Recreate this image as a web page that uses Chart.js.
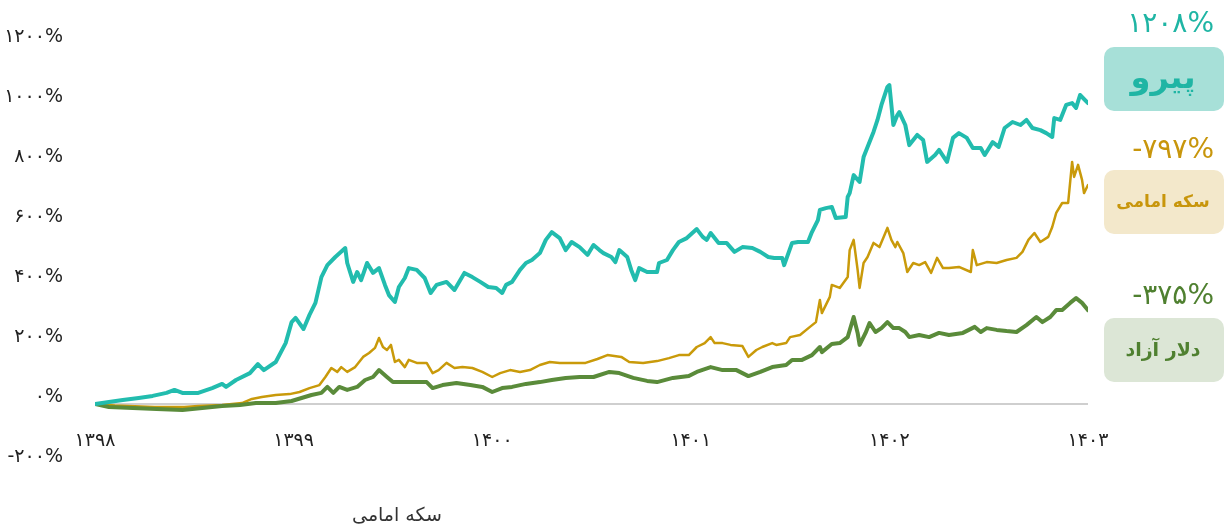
<!DOCTYPE html>
<html>
<head>
<meta charset="utf-8">
<script src="https://cdn.jsdelivr.net/npm/chart.js@4"></script>
<style>
html,body{margin:0;padding:0;background:#fff;}
canvas{display:block;}
</style>
</head>
<body>
<canvas id="c" width="1225" height="529"></canvas>
<script>
// ---- data (x = Solar Hijri year, y = cumulative return %) ----
const pirouDates = [1398.00,1398.07,1398.14,1398.22,1398.29,1398.36,1398.40,1398.44,1398.52,1398.59,1398.64,1398.66,1398.71,1398.78,1398.82,1398.85,1398.91,1398.96,1398.99,1399.01,1399.05,1399.08,1399.11,1399.14,1399.17,1399.21,1399.26,1399.27,1399.30,1399.32,1399.34,1399.37,1399.40,1399.43,1399.46,1399.48,1399.51,1399.53,1399.56,1399.58,1399.62,1399.66,1399.69,1399.72,1399.77,1399.81,1399.86,1399.90,1399.94,1399.98,1400.02,1400.05,1400.07,1400.10,1400.14,1400.17,1400.20,1400.24,1400.27,1400.30,1400.34,1400.37,1400.40,1400.44,1400.48,1400.51,1400.54,1400.56,1400.60,1400.62,1400.64,1400.68,1400.70,1400.72,1400.74,1400.78,1400.83,1400.84,1400.88,1400.91,1400.94,1400.98,1401.03,1401.06,1401.08,1401.10,1401.14,1401.18,1401.22,1401.26,1401.31,1401.35,1401.39,1401.42,1401.46,1401.47,1401.51,1401.54,1401.59,1401.61,1401.64,1401.65,1401.68,1401.71,1401.73,1401.78,1401.79,1401.80,1401.82,1401.85,1401.87,1401.89,1401.92,1401.94,1401.96,1401.99,1402.00,1402.02,1402.04,1402.05,1402.08,1402.10,1402.14,1402.17,1402.19,1402.23,1402.25,1402.29,1402.32,1402.35,1402.39,1402.42,1402.46,1402.48,1402.52,1402.55,1402.58,1402.62,1402.66,1402.69,1402.72,1402.76,1402.79,1402.82,1402.83,1402.86,1402.89,1402.92,1402.94,1402.96,1403.00];
const pirouValues = [0,7,13,20,27,37,47,37,37,53,67,57,80,103,133,113,140,203,273,287,250,297,337,423,463,490,520,470,407,440,413,470,437,453,397,363,340,390,420,453,447,420,370,397,407,380,437,423,407,390,387,370,397,407,447,470,480,503,547,573,553,513,540,523,497,530,513,503,490,473,513,490,447,413,453,440,440,470,480,513,540,553,583,557,547,570,537,537,507,523,520,507,490,487,487,463,537,540,540,573,613,647,653,657,620,623,690,703,763,740,823,857,907,947,997,1057,1063,930,963,973,930,863,897,880,807,830,847,807,887,903,887,853,853,830,873,857,920,940,930,947,920,913,903,890,953,947,997,1003,987,1030,1003];

const coinDates = [1398.00,1398.10,1398.30,1398.45,1398.52,1398.64,1398.74,1398.79,1398.84,1398.91,1398.98,1399.03,1399.08,1399.13,1399.16,1399.19,1399.22,1399.24,1399.27,1399.31,1399.35,1399.38,1399.41,1399.43,1399.45,1399.47,1399.49,1399.51,1399.53,1399.56,1399.58,1399.62,1399.67,1399.70,1399.73,1399.77,1399.81,1399.85,1399.90,1399.95,1400.00,1400.04,1400.09,1400.14,1400.19,1400.24,1400.29,1400.34,1400.40,1400.47,1400.53,1400.58,1400.65,1400.69,1400.76,1400.83,1400.89,1400.94,1400.99,1401.03,1401.07,1401.10,1401.12,1401.16,1401.20,1401.26,1401.29,1401.33,1401.36,1401.41,1401.43,1401.48,1401.50,1401.55,1401.60,1401.63,1401.65,1401.66,1401.70,1401.71,1401.75,1401.79,1401.80,1401.82,1401.84,1401.85,1401.87,1401.89,1401.92,1401.95,1401.99,1402.01,1402.03,1402.04,1402.07,1402.09,1402.12,1402.15,1402.18,1402.21,1402.24,1402.27,1402.30,1402.35,1402.41,1402.42,1402.44,1402.49,1402.54,1402.59,1402.64,1402.67,1402.70,1402.73,1402.76,1402.80,1402.82,1402.84,1402.87,1402.90,1402.92,1402.93,1402.95,1402.97,1402.98,1403.00];
const coinValues = [0,-5,-10,-10,-7,-3,3,17,23,30,33,40,53,63,90,120,107,123,107,123,157,170,187,220,190,180,197,140,147,123,147,137,137,103,113,137,120,123,120,107,90,103,113,107,113,130,140,137,137,137,150,163,157,140,137,143,153,163,163,190,203,223,203,203,197,193,157,180,190,203,197,203,223,230,257,273,347,303,357,397,387,423,513,547,447,387,470,490,537,523,587,547,523,540,503,440,470,463,473,437,487,453,453,457,440,513,463,473,470,480,487,507,547,570,540,557,590,637,670,670,807,757,797,747,703,730];

const dollarDates = [1398.00,1398.07,1398.19,1398.31,1398.44,1398.54,1398.64,1398.73,1398.81,1398.91,1398.99,1399.04,1399.09,1399.14,1399.17,1399.20,1399.23,1399.27,1399.32,1399.36,1399.40,1399.43,1399.47,1399.50,1399.55,1399.62,1399.67,1399.70,1399.75,1399.82,1399.89,1399.95,1400.00,1400.05,1400.10,1400.17,1400.24,1400.30,1400.37,1400.44,1400.51,1400.59,1400.64,1400.71,1400.78,1400.83,1400.91,1400.99,1401.03,1401.10,1401.16,1401.23,1401.29,1401.35,1401.41,1401.48,1401.51,1401.56,1401.61,1401.65,1401.66,1401.71,1401.75,1401.79,1401.82,1401.84,1401.85,1401.88,1401.90,1401.93,1401.96,1401.99,1402.02,1402.05,1402.08,1402.10,1402.15,1402.20,1402.25,1402.30,1402.37,1402.43,1402.46,1402.49,1402.54,1402.59,1402.64,1402.69,1402.74,1402.77,1402.81,1402.84,1402.87,1402.91,1402.94,1402.97,1403.00];
const dollarValues = [0,-10,-13,-17,-20,-13,-7,-3,3,3,10,20,30,37,57,37,57,47,57,80,90,113,90,73,73,73,73,53,63,70,63,57,40,53,57,67,73,80,87,90,90,107,103,87,77,73,87,93,107,123,113,113,93,107,123,130,147,147,163,190,173,200,203,223,290,237,197,237,270,240,253,273,253,253,240,223,230,223,237,230,237,257,240,253,247,243,240,263,290,273,290,313,313,337,353,337,313];

const yTicks = [-200, 0, 200, 400, 600, 800, 1000, 1200];
const xTicks = [1398, 1399, 1400, 1401, 1402, 1403];

const seriesNames = ['پیرو', 'سکه امامی', 'دلار آزاد'];
const finalLabels = ['۱۲۰۸%', '-۷۹۷%', '-۳۷۵%'];

// ---- helpers ----
const faDigits = '۰۱۲۳۴۵۶۷۸۹';
function toFa(v){ return String(v).replace(/[0-9]/g, d => faDigits[+d]); }
function pairs(xs, ys){ return xs.map((x,i)=>({x:x, y:ys[i]})); }

const FONT = "'DejaVu Sans', 'Noto Sans', sans-serif";

const sidePanel = {
  id: 'sidePanel',
  afterDraw(chart){
    const ctx = chart.ctx;
    ctx.save();
    const items = [
      {val: finalLabels[0], name: seriesNames[0], color:'#1fb5a4', bg:'#a7e0d8', vy:25, by:47, bh:64, nameSize:32},
      {val: finalLabels[1], name: seriesNames[1], color:'#c8960c', bg:'#f3e8cb', vy:151, by:170, bh:64, nameSize:17},
      {val: finalLabels[2], name: seriesNames[2], color:'#4f8030', bg:'#dce6d6', vy:297, by:318, bh:64, nameSize:19}
    ];
    items.forEach(it => {
      ctx.fillStyle = it.bg;
      ctx.beginPath();
      ctx.roundRect(1104, it.by, 120, it.bh, 10);
      ctx.fill();
      ctx.fillStyle = it.color;
      ctx.font = "28px " + FONT;
      ctx.textAlign = 'right';
      ctx.textBaseline = 'middle';
      ctx.direction = 'ltr';
      ctx.fillText(it.val, 1214, it.vy);
      ctx.font = "bold " + it.nameSize + "px " + FONT;
      ctx.textAlign = 'center';
      ctx.fillText(it.name, 1163, it.by + it.bh/2 + 1);
    });
    // bottom caption
    ctx.fillStyle = '#333';
    ctx.font = "19px " + FONT;
    ctx.textAlign = 'center';
    ctx.textBaseline = 'middle';
    ctx.fillText(seriesNames[1], 397, 516);
    ctx.restore();
  }
};

new Chart(document.getElementById('c'), {
  type: 'line',
  data: {
    datasets: [
      {label: seriesNames[0], data: pairs(pirouDates, pirouValues), borderColor:'#22bcae', borderWidth:4},
      {label: seriesNames[2], data: pairs(dollarDates, dollarValues), borderColor:'#5a8b3a', borderWidth:4},
      {label: seriesNames[1], data: pairs(coinDates, coinValues), borderColor:'#c99a0a', borderWidth:2.5}
    ]
  },
  options: {
    responsive: false,
    animation: false,
    elements: {
      point: {radius: 0},
      line: {tension: 0, borderJoinStyle: 'round', borderCapStyle: 'round', fill: false}
    },
    layout: {padding: {top: 44, right: 137, left: 0, bottom: 65}},
    plugins: {legend: {display: false}, tooltip: {enabled: false}, title: {display: false}},
    scales: {
      x: {
        type: 'linear',
        position: {y: 0},
        min: 1398, max: 1403,
        afterBuildTicks(scale){ scale.ticks = xTicks.map(v => ({value: v})); },
        grid: {display: false, drawTicks: false},
        border: {display: false},
        ticks: {
          padding: 26,
          color: '#222',
          font: {family: FONT, size: 19},
          maxRotation: 0,
          autoSkip: false,
          callback: v => toFa(v)
        }
      },
      y: {
        min: -200, max: 1200,
        afterBuildTicks(scale){ scale.ticks = yTicks.map(v => ({value: v})); },
        afterFit(scale){ scale.width = 95; },
        grid: {
          drawTicks: false,
          color: c => (c.tick && c.tick.value === 0) ? '#cfcfcf' : 'rgba(0,0,0,0)',
          lineWidth: 2
        },
        border: {display: false},
        ticks: {
          padding: 32,
          labelOffset: -7,
          color: '#222',
          font: {family: FONT, size: 19},
          callback: v => toFa(v) + '%'
        }
      }
    }
  },
  plugins: [sidePanel]
});
</script>
</body>
</html>
